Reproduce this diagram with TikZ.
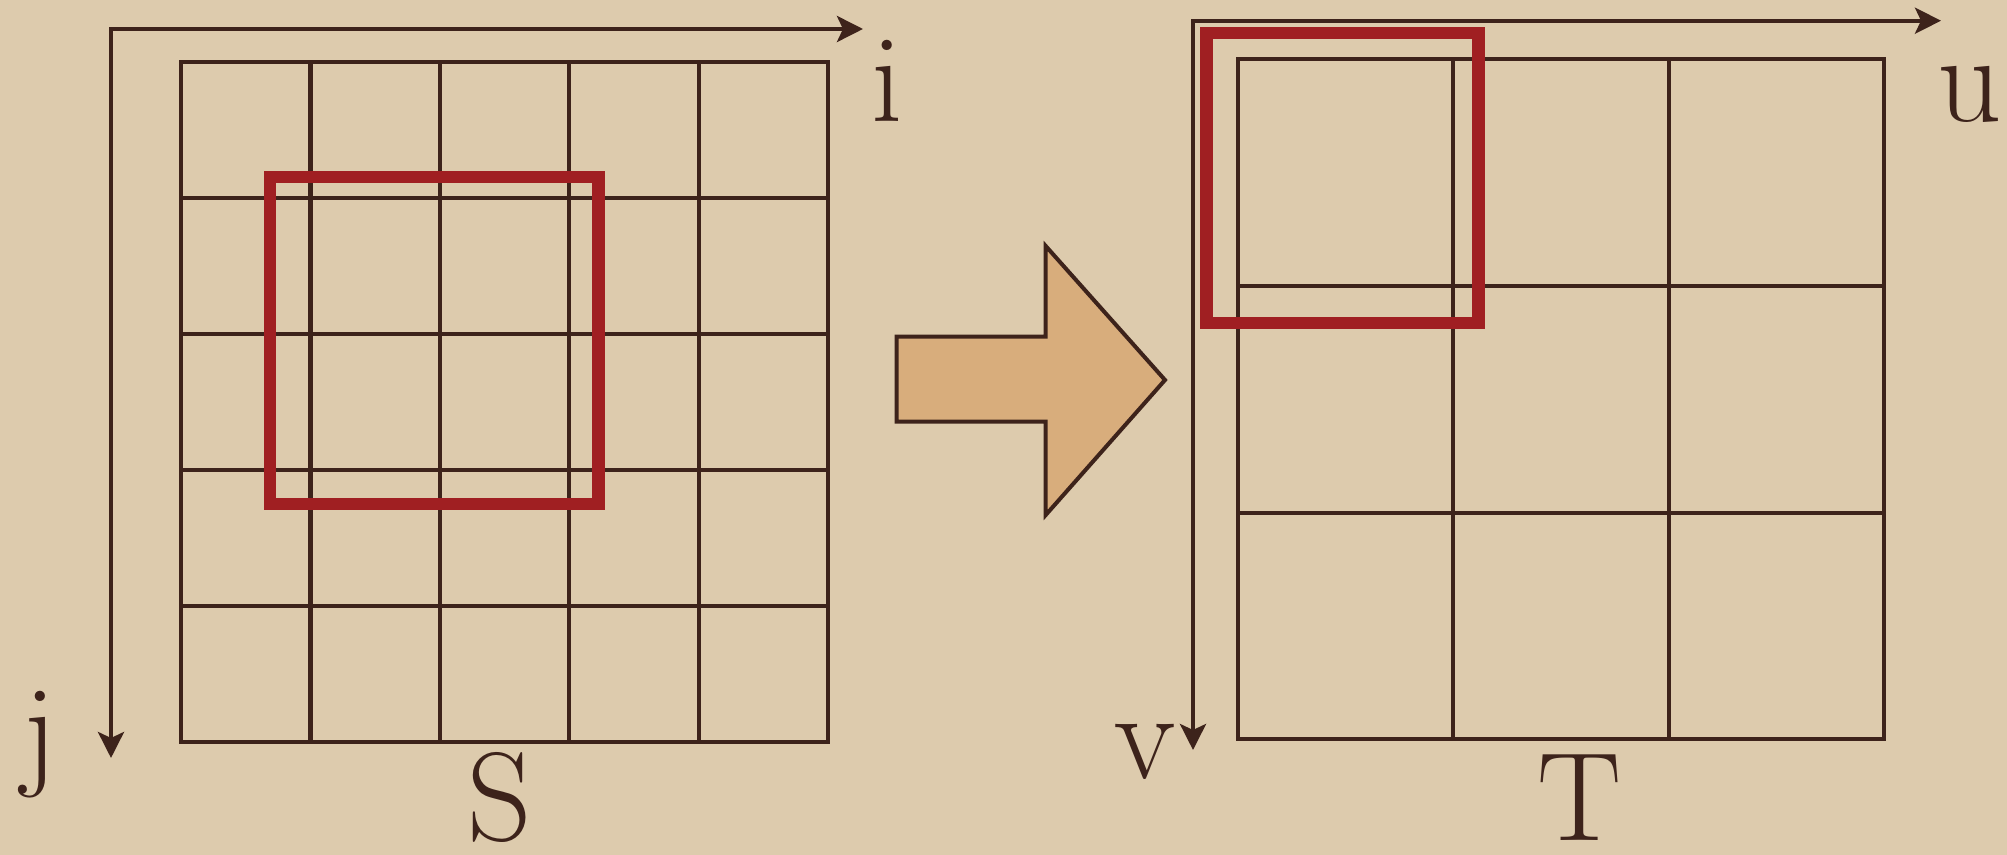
\documentclass[tikz,border=0pt]{standalone}
\usetikzlibrary{arrows.meta}
\definecolor{paper}{HTML}{DDCBAD}
\definecolor{ink}{HTML}{3D231B}
\definecolor{redbox}{HTML}{A01F22}
\definecolor{tanfill}{HTML}{D8AD7C}
\begin{document}
\begin{tikzpicture}[x=0.5pt,y=-0.5pt,
  gridline/.style={draw=ink,line width=2.1pt,line cap=rect},
  axis/.style={draw=ink,line width=2.1pt,line cap=rect,-{Stealth[length=13pt,width=13pt,inset=3pt]}},
  window/.style={draw=redbox,line width=6.3pt},
  bigarrow/.style={draw=ink,line width=2pt,fill=tanfill,line join=miter},
  lbl/.style={text=ink,font=\fontsize{63}{63}\selectfont,inner sep=0pt,anchor=base}]
\fill[paper] (0,0) rectangle (2007,855);
\useasboundingbox (0,0) rectangle (2007,855);

% ---- source image S ----
\coordinate (sO) at (111,29);
\coordinate (sI) at (863,29);
\coordinate (sJ) at (111,758);
\draw[axis] (sO) -- (sI);
\draw[axis] (sO) -- (sJ);
\foreach \k in {0,...,5}{
  \draw[gridline] ({181+\k*129.4},62) -- ({181+\k*129.4},742);
  \draw[gridline] (181,{62+\k*136}) -- (828,{62+\k*136});
}
\draw[window] (270,177) rectangle (598.5,504);

% ---- big arrow ----
\draw[bigarrow] (896.7,336.7) -- (1045.7,336.7) -- (1045.7,246) -- (1165,380)
  -- (1045.7,515) -- (1045.7,421.7) -- (896.7,421.7) -- cycle;

% ---- target image T ----
\coordinate (tO) at (1193,20.7);
\coordinate (tU) at (1941,20.7);
\coordinate (tV) at (1193,750);
\draw[axis] (tO) -- (tU);
\draw[axis] (tO) -- (tV);
\foreach \k in {0,...,3}{
  \draw[gridline] ({1238+\k*215.33},59.3) -- ({1238+\k*215.33},739.3);
  \draw[gridline] (1238,{59.3+\k*226.67}) -- (1884,{59.3+\k*226.67});
}
\draw[window] (1206.5,33) rectangle (1478.5,323);

% ---- labels ----
\node[lbl] (labi) at (887,122) {i};
\node[lbl] (labj) at (40,772) {j};
\node[lbl] (labS) at (500,840) {S};
\node[lbl] (labu) at (1970,122) {u};
\node[lbl] (labv) at (1145,778) {v};
\node[lbl] (labT) at (1580,840) {T};
\end{tikzpicture}
\end{document}
